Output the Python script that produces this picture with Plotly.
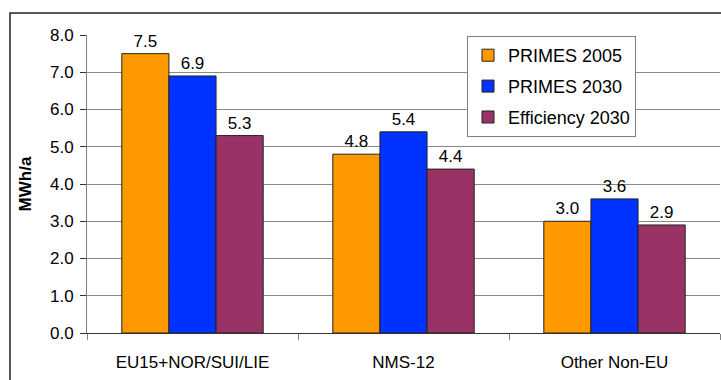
import plotly.graph_objects as go

regions = ["EU15+NOR/SUI/LIE", "NMS-12", "Other Non-EU"]
primes_2005 = [7.5, 4.8, 3.0]
primes_2030 = [6.9, 5.4, 3.6]
efficiency_2030 = [5.3, 4.4, 2.9]
series_names = ["PRIMES 2005", "PRIMES 2030", "Efficiency 2030"]
series_colors = ["#FF9900", "#0033FF", "#993366"]
y_ticks = [0, 1, 2, 3, 4, 5, 6, 7, 8]

font_family = "Liberation Sans, Arial, sans-serif"

fig = go.Figure()
for name, vals, col in zip(series_names, [primes_2005, primes_2030, efficiency_2030], series_colors):
    fig.add_trace(go.Bar(
        x=regions, y=vals, name=name, legendgroup=name,
        marker=dict(color=col, line=dict(color="#222222", width=1)),
        text=[f"{v:.1f}" for v in vals], textposition="outside",
        textfont=dict(size=17, color="black", family=font_family),
        cliponaxis=False,
    ))

W, H = 721, 380
L, R, T, B = 87, 1, 35, 47
pw, ph = W - L - R, H - T - B

fig.update_layout(
    width=W, height=H,
    margin=dict(l=L, r=R, t=T, b=B),
    paper_bgcolor="white", plot_bgcolor="white",
    barmode="group", bargap=0.33, bargroupgap=0,
    font=dict(family=font_family, size=17, color="black"),
    showlegend=True,
    legend=dict(
        x=(467 - L) / pw, y=(H - B - 36) / ph, xanchor="left", yanchor="top",
        bordercolor="#808080", borderwidth=1, bgcolor="white",
        font=dict(size=18, family=font_family),
        traceorder="grouped", tracegroupgap=4.5,
        itemwidth=30, entrywidth=175,
    ),
    xaxis=dict(
        type="category", tickson="boundaries", ticks="outside", ticklen=6,
        tickcolor="#808080", showline=True, linecolor="#333333", linewidth=1,
        tickfont=dict(size=17), showgrid=False, ticklabelstandoff=14,
    ),
    yaxis=dict(
        range=[0, 8], tickvals=y_ticks, tickformat=".1f", ticks="outside",
        ticklen=6, tickcolor="#333333", showline=True, linecolor="#808080",
        showgrid=True, gridcolor="#8a8a8a", gridwidth=1, zeroline=False,
        tickfont=dict(size=17), ticklabelstandoff=3,
        title=dict(text="<b>MWh/a</b>", font=dict(size=17), standoff=14),
    ),
    shapes=[dict(
        type="rect", xref="paper", yref="paper",
        x0=(10 - L) / pw, x1=1.2, y0=-0.4, y1=(H - B - 13) / ph,
        line=dict(color="#222222", width=1.5), layer="below",
    )],
)

fig.write_html("out.html")
